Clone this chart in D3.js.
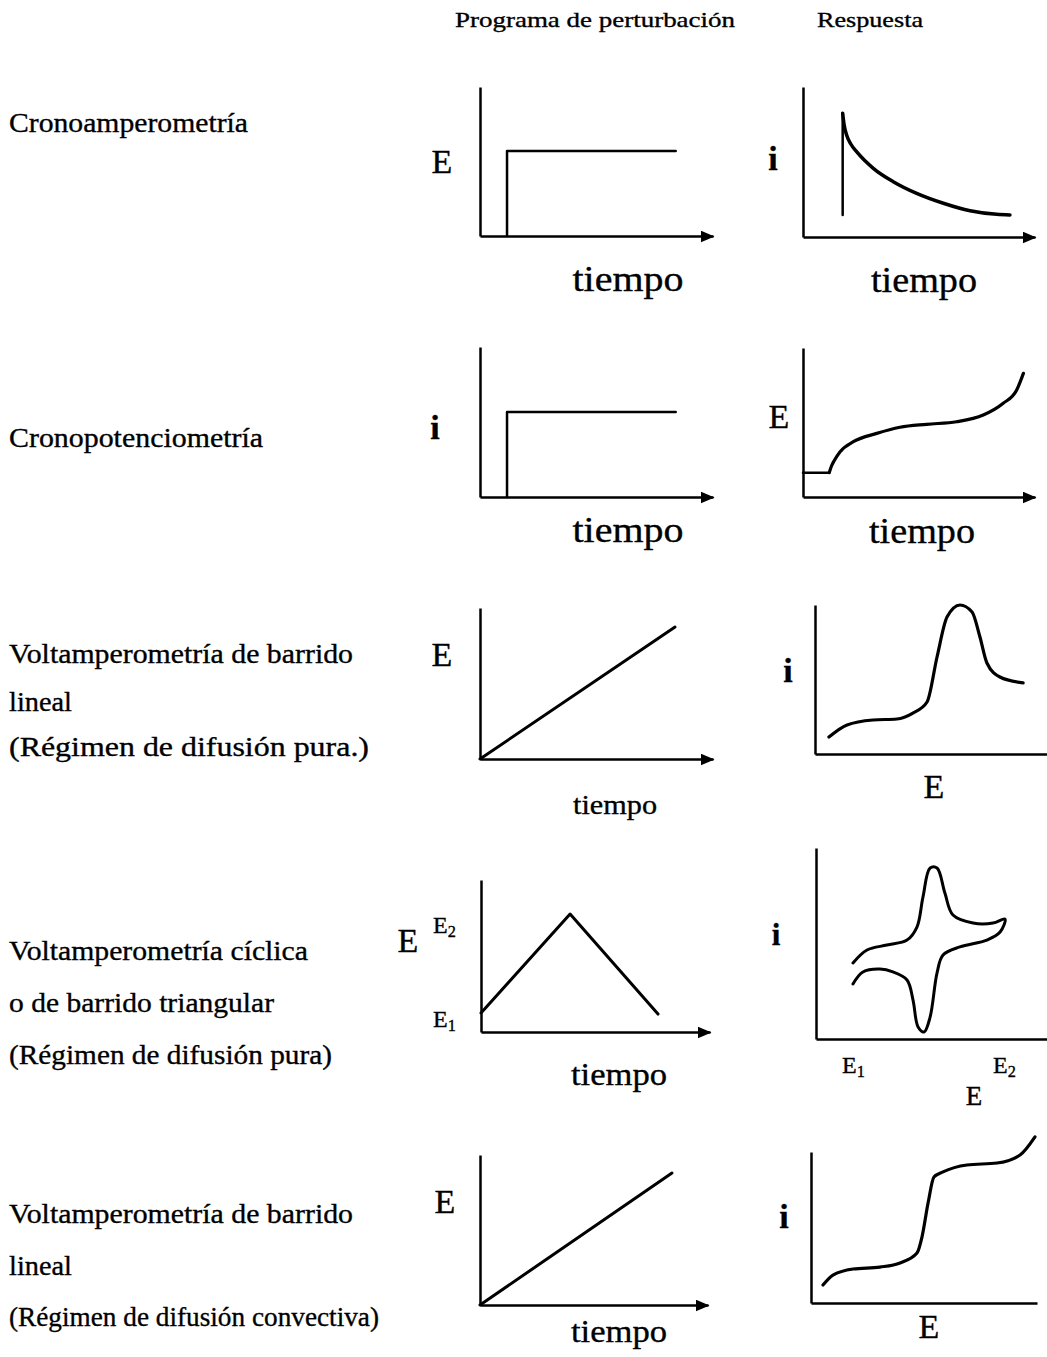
<!DOCTYPE html>
<html>
<head>
<meta charset="utf-8">
<script src="https://cdn.jsdelivr.net/npm/d3@7"></script>
<style>
  body { margin: 0; background: #fff; }
  svg text { font-family: "Liberation Serif", "Times New Roman", serif; fill: #000; stroke: #000; stroke-width: 0.35px; }
</style>
</head>
<body>
<div id="chart"></div>
<script>
// column headers and row titles
const headers = ["Programa de perturbación", "Respuesta"];
const rowTitles = [
  ["Cronoamperometría"],
  ["Cronopotenciometría"],
  ["Voltamperometría de barrido", "lineal", "(Régimen de difusión pura.)"],
  ["Voltamperometría cíclica", "o de barrido triangular", "(Régimen de difusión pura)"],
  ["Voltamperometría de barrido", "lineal", "(Régimen de difusión convectiva)"]
];

// curves, in 0-100 units of each little plot (x = tiempo or E, y = E or i)
const stepE = [[11.6, 0], [11.6, 57], [84, 57]];
const stepI = [[11.6, 0], [11.6, 56.7], [84, 56.7]];
const decayJump = [[17.1, 14.7], [17.1, 82.5]];
const decayI = [[17.1, 82.5], [17.7, 75], [18.8, 68], [20.6, 62], [23.1, 56.9], [30.3, 45.8],
  [38.9, 36.9], [49, 29.1], [60.5, 22.5], [72, 17.5], [83.5, 15.1], [89.2, 14.7]];
const potFlat = [[0, 16.3], [11.3, 16.3]];
const potE = [[11.3, 16.3], [12.2, 20.5], [13.5, 24.5], [16, 30.4], [21.7, 37.1], [31.8, 42.7], [41.8, 46.8],
  [53.3, 48.8], [66.2, 50.5], [77.7, 55], [86.3, 62.9], [92.1, 71.8], [95, 83]];
const rampPure = [[0, 0], [83.7, 87.4]];
const peakI = [[6, 11.4], [13.8, 19.5], [25, 22.8], [35.3, 23.5], [42.2, 27.5], [48.3, 34.9],
  [52.6, 65.1], [56.9, 91.9], [62.5, 100], [67.7, 95.3], [71.1, 78.5], [74.1, 61.1],
  [79.7, 51.7], [89.7, 47.7]];
const triangleE = [[0, 12.5], [38.9, 77.6], [77.3, 11.8]];
const cvI = [[16, 39.8], [22.1, 46.6], [30.7, 49.2], [39.4, 51.8], [43.7, 58.6], [46.3, 74.3],
  [49.4, 89.5], [52.4, 89.5], [55.8, 76.4], [59.3, 64.9], [68, 60.7], [76.6, 60.7], [81.8, 62.8],
  [79.7, 56], [74, 51.8], [62.3, 48.2], [55, 44], [52.4, 34.6], [49.4, 11.5], [46.8, 3.7],
  [44.2, 6.3], [42, 20.4], [39.4, 30.9], [33.3, 35.1], [27.7, 36.6], [20.3, 35.1], [16, 28.8]];
const rampConv = [[0, 0], [84.2, 88]];
const waveI = [[5.3, 11.9], [9.7, 18.5], [18.6, 22.5], [30.5, 23.8], [39.4, 26.5], [46.9, 33.1],
  [49.1, 43.7], [51.8, 66.2], [54.4, 83.4], [58.4, 86.8], [69, 91.4], [82.3, 92.7],
  [92.5, 98], [99.1, 110]];

const width = 1047, height = 1357;
const svg = d3.select("#chart").append("svg")
  .attr("width", width)
  .attr("height", height);

svg.append("defs").append("marker")
  .attr("id", "arrow")
  .attr("markerUnits", "userSpaceOnUse")
  .attr("viewBox", "0 0 14 12")
  .attr("refX", 13)
  .attr("refY", 6)
  .attr("markerWidth", 14)
  .attr("markerHeight", 12)
  .attr("orient", "auto")
  .append("path")
  .attr("d", "M0,0 L14,6 L0,12 Z")
  .attr("fill", "#000");

// plot boxes: left of the axis, right end, bottom and top in pixels
const panels = [
  {x0: 480, x1: 713, y0: 236, y1: 87, arrow: true, series: [{d: stepE, c: d3.curveLinear, w: 2.5}]},
  {x0: 803, x1: 1035, y0: 237, y1: 87, arrow: true, series: [{d: decayJump, c: d3.curveLinear, w: 2.5}, {d: decayI, c: d3.curveMonotoneX, w: 3.5}]},
  {x0: 480, x1: 713, y0: 497, y1: 347, arrow: true, series: [{d: stepI, c: d3.curveLinear, w: 2.5}]},
  {x0: 803, x1: 1035, y0: 497, y1: 348, arrow: true, series: [{d: potFlat, c: d3.curveLinear, w: 2.5}, {d: potE, c: d3.curveMonotoneX, w: 3.2}]},
  {x0: 480, x1: 713, y0: 759, y1: 608, arrow: true, series: [{d: rampPure, c: d3.curveLinear, w: 3}]},
  {x0: 815, x1: 1047, y0: 754, y1: 605, arrow: false, series: [{d: peakI, c: d3.curveMonotoneX, w: 3.2}]},
  {x0: 481, x1: 710, y0: 1032, y1: 880, arrow: true, series: [{d: triangleE, c: d3.curveLinear, w: 3}]},
  {x0: 816, x1: 1047, y0: 1039, y1: 848, arrow: false, series: [{d: cvI, c: d3.curveCatmullRom.alpha(0.5), w: 3}]},
  {x0: 480, x1: 708, y0: 1305, y1: 1155, arrow: true, series: [{d: rampConv, c: d3.curveLinear, w: 3}]},
  {x0: 811, x1: 1037, y0: 1303, y1: 1152, arrow: false, series: [{d: waveI, c: d3.curveMonotoneX, w: 3.2}]}
];

panels.forEach(p => {
  const x = d3.scaleLinear().domain([0, 100]).range([p.x0, p.x1]);
  const y = d3.scaleLinear().domain([0, 100]).range([p.y0, p.y1]);
  const g = svg.append("g");

  const xAxis = g.append("g")
    .attr("transform", `translate(0,${p.y0})`)
    .call(d3.axisBottom(x).ticks(0).tickSizeOuter(0));
  xAxis.select(".domain")
    .attr("stroke", "#000")
    .attr("stroke-width", 2.5)
    .attr("marker-end", p.arrow ? "url(#arrow)" : null);

  g.append("g")
    .attr("transform", `translate(${p.x0},0)`)
    .call(d3.axisLeft(y).ticks(0).tickSizeOuter(0))
    .select(".domain")
    .attr("stroke", "#000")
    .attr("stroke-width", 2.5);

  p.series.forEach(s => {
    g.append("path")
      .datum(s.d)
      .attr("fill", "none")
      .attr("stroke", "#000")
      .attr("stroke-width", s.w)
      .attr("stroke-linejoin", "round")
      .attr("stroke-linecap", "round")
      .attr("d", d3.line().x(d => x(d[0])).y(d => y(d[1])).curve(s.c));
  });
});

function label(text, px, py, size, opts = {}) {
  const t = svg.append("text")
    .attr("x", px)
    .attr("y", py)
    .attr("font-size", size)
    .attr("text-anchor", opts.anchor || "start")
    .attr("font-weight", opts.bold ? "bold" : null);
  if (opts.sub) {
    t.append("tspan").text(text);
    t.append("tspan").attr("font-size", size * 0.68).attr("dy", size * 0.18).text(opts.sub);
  } else {
    t.text(text);
  }
  if (opts.len) t.attr("textLength", opts.len).attr("lengthAdjust", "spacingAndGlyphs");
  return t;
}

// headers
label(headers[0], 455, 27, 22, {len: 280});
label(headers[1], 817, 27, 22, {len: 106});

// row titles
const titleLines = [
  [[rowTitles[0][0], 132, 239]],
  [[rowTitles[1][0], 447, 254]],
  [[rowTitles[2][0], 663, 344], [rowTitles[2][1], 711, 63], [rowTitles[2][2], 756, 360]],
  [[rowTitles[3][0], 960, 299], [rowTitles[3][1], 1012, 265], [rowTitles[3][2], 1064, 323]],
  [[rowTitles[4][0], 1223, 344], [rowTitles[4][1], 1275, 63], [rowTitles[4][2], 1326, 370]]
];
titleLines.forEach(lines => lines.forEach(([t, yy, w]) => label(t, 9, yy, 28, {len: w})));

// axis names
label("E", 442, 173, 34, {anchor: "middle"});
label("tiempo", 628, 291, 36, {anchor: "middle", len: 111});
label("i", 773, 170, 34, {anchor: "middle", bold: true});
label("tiempo", 924, 292, 36, {anchor: "middle", len: 106});

label("i", 435, 439, 34, {anchor: "middle", bold: true});
label("tiempo", 628, 542, 36, {anchor: "middle", len: 111});
label("E", 779, 428, 34, {anchor: "middle"});
label("tiempo", 922, 543, 36, {anchor: "middle", len: 106});

label("E", 442, 666, 34, {anchor: "middle"});
label("tiempo", 615, 814, 28, {anchor: "middle", len: 84});
label("i", 788, 682, 34, {anchor: "middle", bold: true});
label("E", 934, 798, 34, {anchor: "middle"});

label("E", 408, 952, 34, {anchor: "middle"});
label("E", 433, 933, 24, {sub: "2"});
label("E", 433, 1027, 24, {sub: "1"});
label("tiempo", 619, 1085, 31, {anchor: "middle", len: 96});
label("i", 776, 945, 31, {anchor: "middle", bold: true});
label("E", 842, 1073, 24, {sub: "1"});
label("E", 993, 1073, 24, {sub: "2"});
label("E", 974, 1105, 27, {anchor: "middle"});

label("E", 445, 1213, 34, {anchor: "middle"});
label("tiempo", 619, 1342, 31, {anchor: "middle", len: 96});
label("i", 784, 1228, 34, {anchor: "middle", bold: true});
label("E", 929, 1338, 34, {anchor: "middle"});
</script>
</body>
</html>
